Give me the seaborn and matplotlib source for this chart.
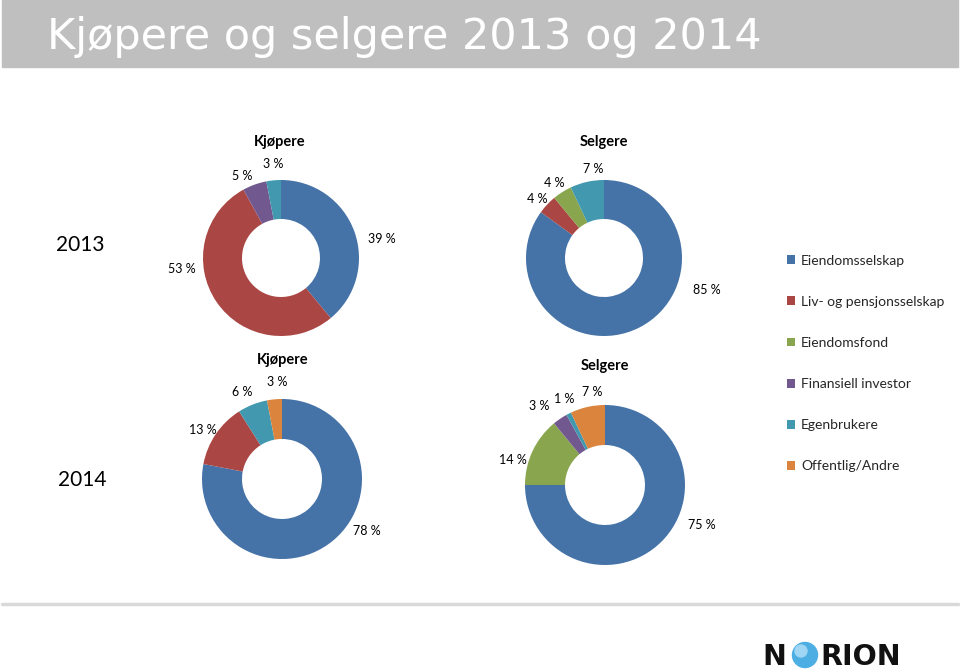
import matplotlib
matplotlib.use('Agg')
import matplotlib.pyplot as plt
import seaborn as sns
from matplotlib.patches import Rectangle, Circle, Patch

# kategorier og andeler (prosent), i samme rekkefolge som legenden
kategorier = ['Eiendomsselskap', 'Liv- og pensjonsselskap', 'Eiendomsfond',
              'Finansiell investor', 'Egenbrukere', 'Offentlig/Andre']
kjopere_2013 = [39, 53, 0, 5, 3, 0]
selgere_2013 = [85, 4, 4, 0, 7, 0]
kjopere_2014 = [78, 13, 0, 0, 6, 3]
selgere_2014 = [75, 0, 14, 3, 1, 7]

farger = sns.color_palette(['#4572A7', '#AA4643', '#89A54E', '#71588F', '#4198AF', '#DB843D'])

sns.set_theme(style='white')
plt.rcParams['font.family'] = ['Lato', 'DejaVu Sans']

H = 672
fig = plt.figure(figsize=(9.6, 6.72), dpi=100)
ax = fig.add_axes([0, 0, 1, 1])

# plassering av hver smultring (piksel, y fra toppen) og etikettene
diagrammer = [
    ('Kjøpere', kjopere_2013, (281, 258), 78, (280, 142),
     [(382, 239), (182, 269), (242, 176), (273, 164)]),
    ('Selgere', selgere_2013, (604, 258), 78, (604, 142),
     [(707, 290), (537, 199), (554, 183), (593, 169)]),
    ('Kjøpere', kjopere_2014, (282, 479), 80, (283, 360),
     [(367, 531), (203, 430), (242, 392), (277, 382)]),
    ('Selgere', selgere_2014, (605, 485), 80, (605, 366),
     [(702, 525), (513, 460), (539, 406), (564, 399), (592, 392)]),
]

for tittel, verdier, (cx, cy), r, (tx, ty), etikett_pos in diagrammer:
    ax.pie(verdier, colors=farger, center=(cx, H - cy), radius=r,
           startangle=90, counterclock=False,
           wedgeprops=dict(width=r / 2, linewidth=0))
    ax.text(tx, H - ty, tittel, ha='center', va='center', fontsize=10.5,
            fontweight='bold', color='black')
    ikke_null = [v for v in verdier if v > 0]
    for v, (lx, ly) in zip(ikke_null, etikett_pos):
        ax.text(lx, H - ly, f'{v} %', ha='center', va='center', fontsize=9, color='black')

# aarstall
ax.text(80, H - 245, '2013', ha='center', va='center', fontsize=15, color='black')
ax.text(82, H - 480, '2014', ha='center', va='center', fontsize=15, color='black')

# tittelfelt
ax.add_patch(Rectangle((2, H - 67), 956, 67, color='#BFBFBF', zorder=0))
ax.text(47, H - 37, 'Kjøpere og selgere 2013 og 2014', ha='left', va='center',
        fontsize=31, color='white', family='DejaVu Sans')

# bunnlinje og logo
ax.plot([2, 958], [H - 604, H - 604], color='#D9D9D9', lw=2.5)
ax.text(762, H - 665, 'N', ha='left', va='baseline', fontsize=20.5, color='#111111',
        family='DejaVu Sans', fontweight='bold')
ax.add_patch(Circle((805, H - 655), 12.5, color='#4DAEE3'))
ax.add_patch(Circle((801, H - 651), 6, color='#9ED6F3'))
ax.text(820, H - 665, 'RION', ha='left', va='baseline', fontsize=20.5, color='#111111',
        family='DejaVu Sans', fontweight='bold')

# legende
handles = [Patch(facecolor=c, edgecolor='none') for c in farger]
leg = ax.legend(handles, kategorier, loc='upper left', bbox_to_anchor=(781 / 960, 1 - 249 / H),
                frameon=False, fontsize=10, handlelength=0.6, handleheight=0.6,
                handletextpad=0.45, labelspacing=2.1, borderaxespad=0)

ax.set_xlim(0, 960)
ax.set_ylim(0, H)
ax.set_aspect('auto')
ax.axis('off')

fig.savefig('out.png', dpi=100)
